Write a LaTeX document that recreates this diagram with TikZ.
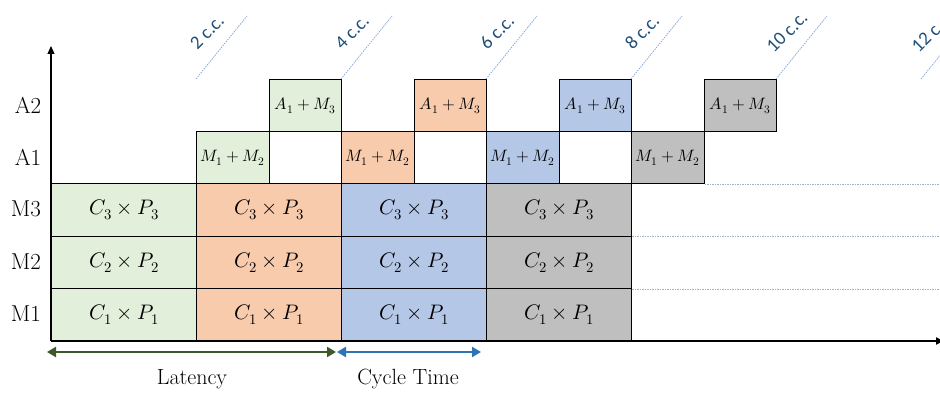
\documentclass[tikz,border=0pt]{standalone}
\usepackage{fontspec}
\usepackage{unicode-math}
\newfontfamily\ccfont{Carlito}
\usetikzlibrary{arrows.meta,calc}
\definecolor{cgreen}{HTML}{E2EFDA}
\definecolor{corange}{HTML}{F8CBAD}
\definecolor{cblue}{HTML}{B4C7E7}
\definecolor{cgray}{HTML}{BFBFBF}
\definecolor{latgreen}{HTML}{3B5A27}
\definecolor{ctblue}{HTML}{2E75B6}
\definecolor{cctext}{HTML}{1F4E79}
\definecolor{cclinecol}{HTML}{8FAADC}
\definecolor{gridcol}{HTML}{9FB2C6}
\begin{document}
\begin{tikzpicture}[x=1pt,y=-1pt,
  bigbox/.style={draw=black, line width=1.2pt, minimum width=145pt, minimum height=52.5pt, inner sep=0pt, anchor=north west, font=\fontsize{21}{25}\selectfont},
  smallbox/.style={draw=black, line width=1.1pt, minimum width=72.5pt, minimum height=52pt, inner sep=0pt, anchor=north west, font=\fontsize{16.5}{20}\selectfont},
  rowlabel/.style={font=\fontsize{23}{27}\selectfont, anchor=center},
  cclabel/.style={font=\ccfont\fontsize{19}{22}\selectfont, text=cctext, rotate=45, anchor=center, inner sep=0pt},
  ccline/.style={draw=cclinecol, line width=0.8pt, dash pattern=on 1.5pt off 1pt},
  gridline/.style={draw=gridcol, line width=0.7pt, dash pattern=on 1.5pt off 1pt},
  spanarrow/.style={line width=2.2pt, {Triangle[length=9pt,width=10pt]}-{Triangle[length=9pt,width=10pt]}},
  bottomlabel/.style={font=\fontsize{22}{26}\selectfont}
]
\useasboundingbox (0,0) rectangle (940,396);

% big boxes
\node[bigbox, fill=cgreen] (g3) at (51,183) {$C_3\times P_3$};
\node[bigbox, fill=cgreen] (g2) at (51,235.5) {$C_2\times P_2$};
\node[bigbox, fill=cgreen] (g1) at (51,288) {$C_1\times P_1$};
\node[bigbox, fill=corange] (o3) at (196,183) {$C_3\times P_3$};
\node[bigbox, fill=corange] (o2) at (196,235.5) {$C_2\times P_2$};
\node[bigbox, fill=corange] (o1) at (196,288) {$C_1\times P_1$};
\node[bigbox, fill=cblue] (b3) at (341,183) {$C_3\times P_3$};
\node[bigbox, fill=cblue] (b2) at (341,235.5) {$C_2\times P_2$};
\node[bigbox, fill=cblue] (b1) at (341,288) {$C_1\times P_1$};
\node[bigbox, fill=cgray] (k3) at (486,183) {$C_3\times P_3$};
\node[bigbox, fill=cgray] (k2) at (486,235.5) {$C_2\times P_2$};
\node[bigbox, fill=cgray] (k1) at (486,288) {$C_1\times P_1$};

% small boxes
\node[smallbox, fill=cgreen] (ga1) at (196,131) {$M_1+M_2$};
\node[smallbox, fill=cgreen] (ga2) at (268.5,79) {$A_1+M_3$};
\node[smallbox, fill=corange] (oa1) at (341,131) {$M_1+M_2$};
\node[smallbox, fill=corange] (oa2) at (413.5,79) {$A_1+M_3$};
\node[smallbox, fill=cblue] (ba1) at (486,131) {$M_1+M_2$};
\node[smallbox, fill=cblue] (ba2) at (558.5,79) {$A_1+M_3$};
\node[smallbox, fill=cgray] (ka1) at (631,131) {$M_1+M_2$};
\node[smallbox, fill=cgray] (ka2) at (703.5,79) {$A_1+M_3$};

% axes
\coordinate (orig) at (51,341);
\coordinate (ytip) at (51,46);
\coordinate (xtip) at (944,341);
\draw[line width=1.2pt, -{Triangle[length=8pt,width=7pt]}] (orig) -- (ytip);
\draw[line width=1.8pt, -{Triangle[length=8pt,width=7pt]}] (orig) -- (xtip);

% horizontal grid lines
\draw[gridline] (ka1.south east) -- (ka1.south east -| xtip);
\draw[gridline] (k3.south east) -- (k3.south east -| xtip);
\draw[gridline] (k2.south east) -- (k2.south east -| xtip);

% clock-cycle markers
\coordinate (cc2) at (196,79);
\coordinate (cc4) at (341,79);
\coordinate (cc6) at (486,79);
\coordinate (cc8) at (631,79);
\coordinate (cc10) at (776,79);
\coordinate (cc12) at (921,79);
\foreach \c/\t in {cc2/2 c.c., cc4/4 c.c., cc6/6 c.c., cc8/8 c.c., cc10/10 c.c., cc12/12 c.c.}{
  \draw[ccline] (\c) -- ++(51,-63);
  \node[cclabel] (\c-lab) at ($(\c)+(11,-47)$) {\t};
}

% row labels
\node[rowlabel] (la2) at (28,105) {A2};
\node[rowlabel] (la1) at (28,157) {A1};
\node[rowlabel] (lm3) at (26,209) {M3};
\node[rowlabel] (lm2) at (26,262) {M2};
\node[rowlabel] (lm1) at (26,314) {M1};

% latency / cycle time
\coordinate (lat1) at (47,352);
\coordinate (lat2) at (336,352);
\coordinate (cyc1) at (337,352);
\coordinate (cyc2) at (481,352);
\draw[spanarrow, draw=latgreen, fill=latgreen] (lat1) -- (lat2);
\draw[spanarrow, draw=ctblue, fill=ctblue] (cyc1) -- (cyc2);
\node[bottomlabel] (latlab) at (192,379) {Latency};
\node[bottomlabel] (cyclab) at (408,379) {Cycle Time};
\end{tikzpicture}
\end{document}
